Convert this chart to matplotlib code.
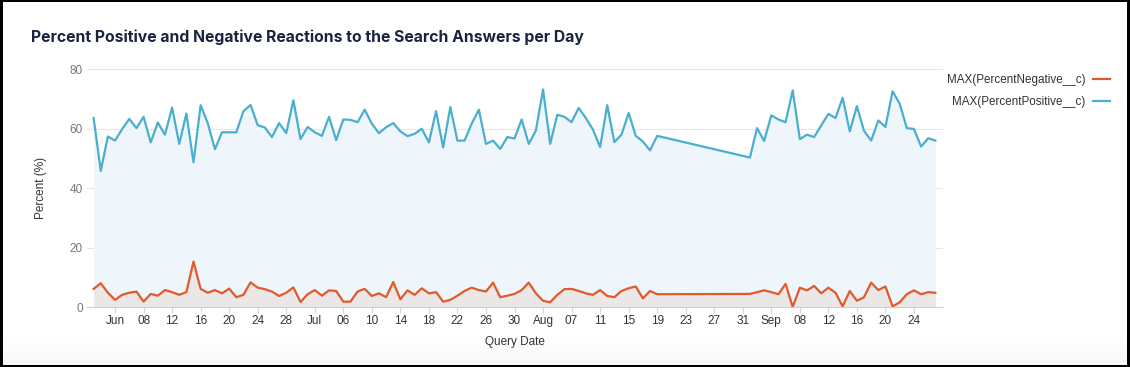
import numpy as np
import pandas as pd
import matplotlib
matplotlib.use("Agg")
import matplotlib.pyplot as plt

# daily values, Jun 1 - Aug 19 and Sep 1 - Sep 27 (no data in between)
dates = pd.date_range("2023-06-01", "2023-08-19").append(pd.date_range("2023-09-01", "2023-09-27"))

pct_positive = [
    63.6, 45.8, 57.4, 56.0, 59.9, 63.3, 60.2, 64.0, 55.4, 62.1,
    58.0, 67.1, 54.9, 65.1, 48.7, 67.9, 61.9, 53.1, 58.8, 58.8,
    58.8, 65.9, 68.0, 61.2, 60.4, 57.2, 61.9, 58.5, 69.6, 56.5,
    60.6, 58.8, 57.6, 64.0, 56.2, 63.1, 63.0, 62.2, 66.4, 61.7,
    58.5, 60.5, 61.9, 59.1, 57.5, 58.3, 60.0, 55.4, 65.9, 53.7,
    67.3, 56.0, 56.0, 61.7, 66.4, 54.9, 56.0, 53.2, 57.2, 56.7,
    63.1, 54.9, 59.4, 73.2, 54.9, 64.7, 64.0, 62.2, 67.0, 63.6,
    59.7, 53.8, 67.9, 55.5, 58.0, 65.3, 57.6, 55.7, 52.7, 57.6,
    50.3, 60.2, 55.9, 64.5, 63.1, 62.2, 72.9, 56.5, 58.0, 57.2,
    61.1, 65.0, 63.6, 70.4, 59.1, 67.6, 59.3, 56.0, 62.8, 60.6,
    72.6, 68.4, 60.2, 59.9, 54.0, 56.8, 56.0,
]

pct_negative = [
    6.1, 8.0, 4.8, 2.4, 4.1, 4.8, 5.2, 1.8, 4.4, 3.8,
    5.7, 5.0, 4.1, 5.0, 15.3, 6.1, 4.8, 5.7, 4.6, 6.2,
    3.3, 4.1, 8.3, 6.5, 6.0, 5.2, 3.7, 4.8, 6.6, 1.7,
    4.3, 5.7, 3.8, 5.6, 5.4, 1.8, 1.8, 5.2, 6.1, 3.7,
    4.6, 3.3, 8.4, 2.6, 5.6, 4.1, 6.3, 4.6, 5.0, 1.8,
    2.4, 3.8, 5.4, 6.5, 5.7, 5.2, 8.2, 3.3, 3.8, 4.4,
    5.7, 8.2, 4.6, 2.1, 1.6, 4.1, 6.0, 6.1, 5.4, 4.6,
    4.1, 5.7, 3.7, 3.3, 5.4, 6.3, 6.9, 2.9, 5.4, 4.3,
    4.4, 5.0, 5.6, 5.0, 4.3, 7.8, 0.0, 6.5, 5.6, 7.1,
    4.6, 6.5, 4.8, 0.2, 5.4, 2.1, 3.3, 8.2, 5.7, 6.9,
    0.2, 1.6, 4.3, 5.6, 4.3, 5.0, 4.8,
]

tick_dates = pd.date_range("2023-06-04", "2023-09-24", freq="4D")
y_ticks = [0, 20, 40, 60, 80]

blue = "#4aafcf"
orange = "#e05a2b"

plt.rcParams["font.family"] = ["Liberation Sans", "DejaVu Sans"]

W, H = 1130, 367
fig = plt.figure(figsize=(W / 100, H / 100), dpi=100, facecolor="black")

# white card with a faint grey fade at the bottom
bg = fig.add_axes([3 / W, 2 / H, 1124 / W, 363 / H])
grad = np.ones((363, 1))
grad[-30:, 0] = np.linspace(1.0, 0.965, 30)
bg.imshow(grad, cmap="gray", vmin=0, vmax=1, aspect="auto", extent=[0, 1, 0, 1])
bg.set_axis_off()

ax = fig.add_axes([87 / W, 1 - 307 / H, (943 - 87) / W, (307 - 69.3) / H])
ax.set_facecolor("none")

ax.fill_between(dates, 0, pct_positive, color="#eef6fb", lw=0)
ax.fill_between(dates, 0, pct_negative, color="#ebe7e7", lw=0)
ax.plot(dates, pct_negative, color=orange, lw=1.6, label="MAX(PercentNegative__c)", clip_on=False)
ax.plot(dates, pct_positive, color=blue, lw=1.6, label="MAX(PercentPositive__c)")

ax.set_xlim(dates[0] - pd.Timedelta(days=0.93), dates[-1] + pd.Timedelta(days=1.07))
ax.set_ylim(0, 80)

labels = []
prev_month = None
for d in tick_dates:
    labels.append(d.strftime("%b") if d.month != prev_month else d.strftime("%d"))
    prev_month = d.month
ax.set_xticks(tick_dates)
ax.set_xticklabels(labels)
ax.set_yticks(y_ticks)

ax.grid(axis="y", color="#e3e8ee", lw=0.8)
ax.set_axisbelow(True)
for s in ["top", "right", "left"]:
    ax.spines[s].set_visible(False)
ax.spines["bottom"].set_color("#cfcfcf")
ax.tick_params(axis="x", length=4, color="#d8d8d8", labelsize=8.5, labelcolor="#333333", pad=2)
ax.tick_params(axis="y", length=0, labelsize=8.5, labelcolor="#777777", pad=3)

ax.set_xlabel("Query Date", fontsize=8.5, color="#333333", labelpad=6)
ax.set_ylabel("Percent (%)", fontsize=8.5, color="#333333", labelpad=16)

fig.text(31 / W, 1 - 37 / H, "Percent Positive and Negative Reactions to the Search Answers per Day",
         family=["Inter", "DejaVu Sans"], fontweight="bold", fontsize=11.35, color="#1b2340", va="center")

fig.legend(loc="upper right", bbox_to_anchor=(1120 / W, 1 - 64 / H), frameon=False,
           markerfirst=False, fontsize=8.4, handlelength=1.4, handletextpad=0.7,
           labelspacing=0.85, labelcolor="#333333")

fig.savefig("out.png", dpi=100, facecolor="black")
